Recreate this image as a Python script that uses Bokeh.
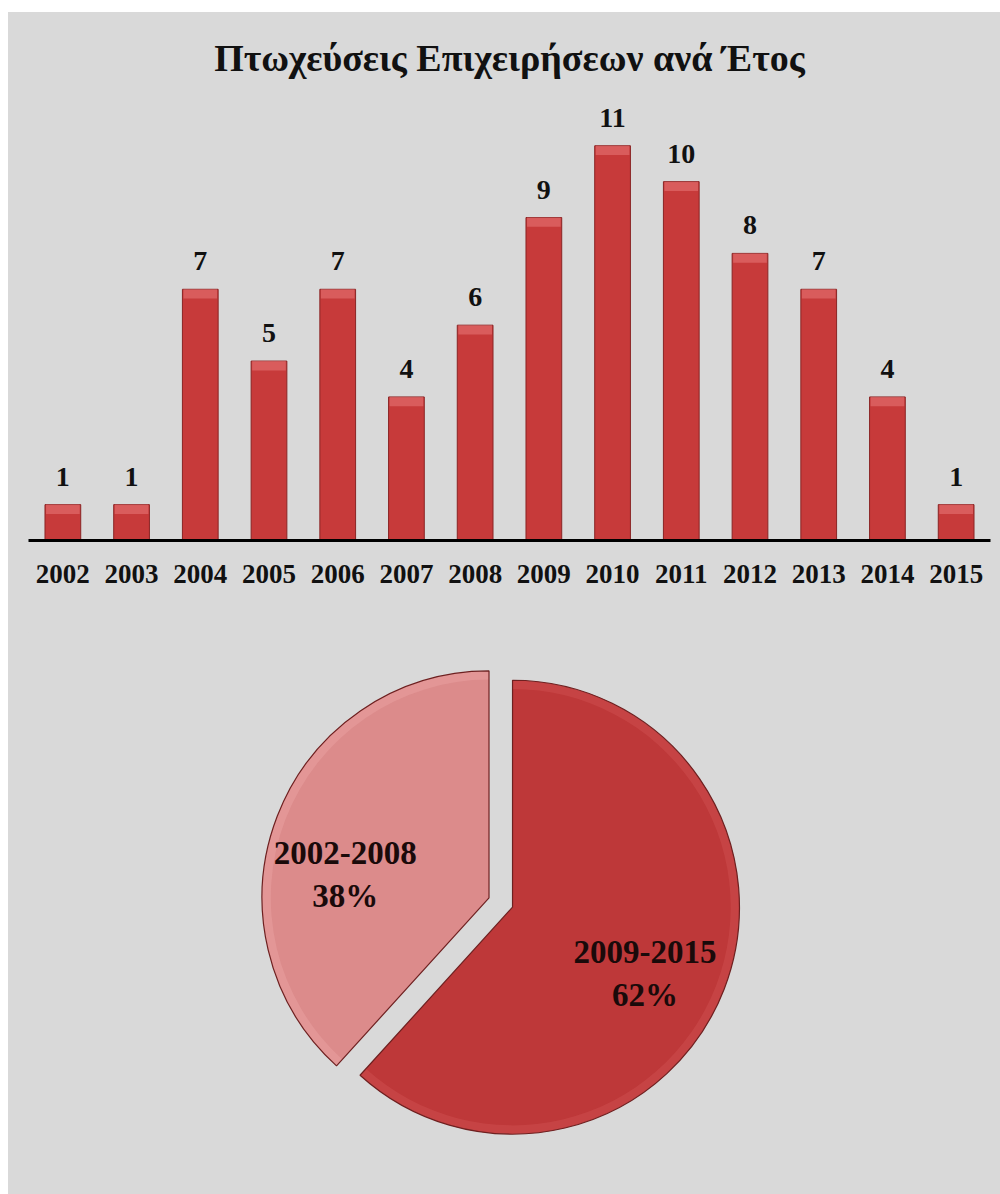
import math
from bokeh.plotting import figure
from bokeh.models import ColumnDataSource, FactorRange, Range1d
from bokeh.layouts import column
from bokeh.embed import file_html
from bokeh.resources import INLINE
from bokeh.core.properties import value

# ---------------- data ----------------
title_text = "Πτωχεύσεις Επιχειρήσεων ανά Έτος"
years = ["2002", "2003", "2004", "2005", "2006", "2007", "2008",
         "2009", "2010", "2011", "2012", "2013", "2014", "2015"]
counts = [1, 1, 7, 5, 7, 4, 6, 9, 11, 10, 8, 7, 4, 1]
periods = ["2002-2008", "2009-2015"]
period_totals = [31, 50]
period_pcts = ["38%", "62%"]

# ---------------- style ----------------
BG = "#d9d9d9"
SERIF = "Liberation Serif"
BAR_FILL = "#c73a3a"
BAR_LINE = "#8a2424"
BAR_CAP = "#e87878"
SLICE_COLORS = ["#dc8b8b", "#be3839"]
SLICE_RIM = ["#eaa5a5", "#d05252"]
SLICE_LINE = "#6e2020"

# ---------------- bar chart ----------------
p1 = figure(width=992, height=620, x_range=FactorRange(*years), y_range=Range1d(0, 12.4),
            output_backend="svg", toolbar_location=None, y_axis_location=None,
            min_border_left=20, min_border_right=10, min_border_top=83, min_border_bottom=92,
            background_fill_color=BG, background_fill_alpha=0,
            border_fill_color=BG, outline_line_color=None,
            title=title_text)
p1.title.align = "center"
p1.title.text_font = SERIF
p1.title.text_font_style = "bold"
p1.title.text_font_size = "38px"
p1.title.text_color = "#111111"
p1.title.standoff = 33
p1.title.offset = -8

src = ColumnDataSource(dict(year=years, count=counts,
                            cap=[c - 0.26 for c in counts],
                            label=[str(c) for c in counts]))
p1.vbar(x="year", top="count", width=0.52, source=src,
        fill_color=BAR_FILL, line_color=BAR_LINE, line_width=1)
p1.vbar(x="year", top="count", bottom="cap", width=0.49, source=src,
        fill_color=BAR_CAP, fill_alpha=0.55, line_color=None)
p1.text(x="year", y="count", text="label", source=src,
        text_font=value(SERIF), text_font_style="bold", text_font_size="28px",
        text_align="center", text_baseline="alphabetic", y_offset=-28,
        text_color="#111111")

p1.xaxis.axis_line_color = "black"
p1.xaxis.axis_line_width = 3
p1.xaxis.major_tick_line_color = None
p1.xaxis.major_tick_in = 0
p1.xaxis.major_tick_out = 0
p1.xaxis.minor_tick_line_color = None
p1.xaxis.major_label_text_font = SERIF
p1.xaxis.major_label_text_font_style = "bold"
p1.xaxis.major_label_text_font_size = "27px"
p1.xaxis.major_label_text_color = "#111111"
p1.xaxis.major_label_standoff = 24
p1.xgrid.grid_line_color = None
p1.ygrid.grid_line_color = None

# ---------------- pie chart ----------------
W2, H2 = 992, 562
p2 = figure(width=W2, height=H2, x_range=Range1d(0, W2), y_range=Range1d(0, H2),
            output_backend="svg", toolbar_location=None,
            x_axis_location=None, y_axis_location=None, min_border=0,
            background_fill_color=BG, background_fill_alpha=0,
            border_fill_color=BG, outline_line_color=None)
p2.xgrid.grid_line_color = None
p2.ygrid.grid_line_color = None

total = sum(period_totals)
fracs = [v / total for v in period_totals]
# first slice (2002-2008) sits counter-clockwise of 12 o'clock, second clockwise of it
starts = [90.0, 90.0 - 360.0 * fracs[1]]
ends = [90.0 + 360.0 * fracs[0], 90.0]
mids = [(s + e) / 2 for s, e in zip(starts, ends)]

cx, cy, R, explode = 487, 292, 234, 13
xs = [cx + explode * math.cos(math.radians(m)) for m in mids]
ys = [cy + explode * math.sin(math.radians(m)) for m in mids]

pie_src = ColumnDataSource(dict(x=xs, y=ys,
                                start=[math.radians(s) for s in starts],
                                end=[math.radians(e) for e in ends],
                                color=SLICE_COLORS, rim=SLICE_RIM))
p2.wedge(x="x", y="y", radius=R, start_angle="start", end_angle="end",
         fill_color="color", line_color=None, source=pie_src)
# soft bevel highlight along the rim
p2.annular_wedge(x="x", y="y", inner_radius=R - 9, outer_radius=R,
                 start_angle="start", end_angle="end",
                 fill_color="rim", fill_alpha=0.45, line_color=None, source=pie_src)
p2.wedge(x="x", y="y", radius=R, start_angle="start", end_angle="end",
         fill_color=None, line_color=SLICE_LINE, line_width=1.2, source=pie_src)

label_dir = [171, -26]
label_dist = [150, 152]
lx = [x + d * math.cos(math.radians(a)) for x, d, a in zip(xs, label_dist, label_dir)]
ly = [y + d * math.sin(math.radians(a)) for y, d, a in zip(ys, label_dist, label_dir)]
lab_src = ColumnDataSource(dict(x=lx, y=ly,
                                text=[f"{p}\n{q}" for p, q in zip(periods, period_pcts)]))
p2.text(x="x", y="y", text="text", source=lab_src,
        text_font=value(SERIF), text_font_style="bold", text_font_size="33px",
        text_align="center", text_baseline="middle", text_color="#1a0a0a",
        text_line_height=1.2)

layout = column(p1, p2, margin=(12, 0, 0, 8), spacing=0,
                styles={"background-color": BG})
open("out.html", "w").write(file_html(layout, INLINE))
